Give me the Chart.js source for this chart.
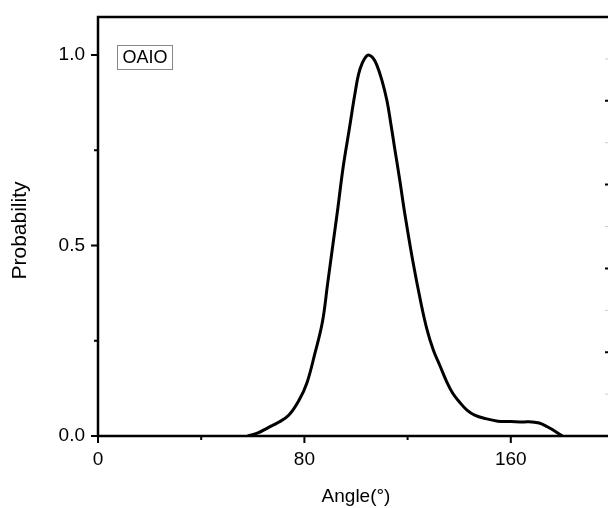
<!DOCTYPE html>
<html>
<head>
<meta charset="utf-8">
<script src="https://cdn.jsdelivr.net/npm/chart.js@4.4.1/dist/chart.umd.min.js"></script>
<style>
  html, body { margin: 0; padding: 0; background: #fff; overflow: hidden; }
  #clip { width: 608px; height: 508px; overflow: hidden; }
  #wrap { width: 640px; height: 508px; }
</style>
</head>
<body>
<div id="clip"><div id="wrap"><canvas id="myChart" width="640" height="508"></canvas></div></div>
<script>
// angle distribution
const angles = [58, 62, 66, 70, 74, 78, 81, 84, 87, 89, 91, 93, 95, 97.5, 99.5, 101, 102.5, 104, 105, 106.5, 108, 110, 112, 113.5, 115, 117, 119, 122, 125, 127.5, 130, 132.5, 135, 137.5, 140, 143, 146, 150, 155, 160, 165, 168, 171, 174, 177, 180];
const probs = [0, 0.008, 0.022, 0.036, 0.055, 0.095, 0.14, 0.215, 0.30, 0.40, 0.50, 0.60, 0.705, 0.81, 0.895, 0.95, 0.98, 0.997, 1.0, 0.993, 0.975, 0.935, 0.88, 0.82, 0.755, 0.67, 0.58, 0.46, 0.355, 0.28, 0.225, 0.185, 0.145, 0.112, 0.09, 0.068, 0.055, 0.046, 0.039, 0.038, 0.037, 0.037, 0.034, 0.025, 0.013, 0];

const seriesName = 'OAIO';
const xTitle = 'Angle(°)';
const yTitle = 'Probability';

const xTickLabels = [0, 80, 160];
const xMinorTicks = [40, 120, 200];
const yTickLabels = [0, 0.5, 1.0];
const yMinorTicks = [0.25, 0.75];
const rightMajorTicks = [1, 2, 3, 4];
const rightMinorTicks = [0.5, 1.5, 2.5, 3.5, 4.5];

const fontName = '"Liberation Sans", Arial, sans-serif';

// frame, tick marks, y title and the label box
const framePlugin = {
    id: 'frame',
    afterDraw(chart) {
        const ctx = chart.ctx;
        const a = chart.chartArea;
        const xs = chart.scales.x, ys = chart.scales.y, rs = chart.scales.y2;
        ctx.save();
        ctx.strokeStyle = '#000';
        ctx.lineCap = 'square';

        ctx.lineWidth = 2.5;
        ctx.beginPath();
        ctx.moveTo(a.left, a.top); ctx.lineTo(a.right, a.top);
        ctx.moveTo(a.left, a.top); ctx.lineTo(a.left, a.bottom);
        ctx.moveTo(a.left, a.bottom); ctx.lineTo(a.right, a.bottom);
        ctx.stroke();

        ctx.lineWidth = 2;
        ctx.lineCap = 'butt';
        ctx.beginPath();
        xTickLabels.forEach(v => { const p = xs.getPixelForValue(v); ctx.moveTo(p, a.bottom); ctx.lineTo(p, a.bottom + 7); });
        xMinorTicks.forEach(v => { const p = xs.getPixelForValue(v); ctx.moveTo(p, a.bottom); ctx.lineTo(p, a.bottom + 4); });
        yTickLabels.forEach(v => { const p = ys.getPixelForValue(v); ctx.moveTo(a.left, p); ctx.lineTo(a.left - 7, p); });
        yMinorTicks.forEach(v => { const p = ys.getPixelForValue(v); ctx.moveTo(a.left, p); ctx.lineTo(a.left - 4, p); });
        rightMajorTicks.forEach(v => { const p = rs.getPixelForValue(v); ctx.moveTo(a.right, p); ctx.lineTo(a.right - 9, p); });
        ctx.stroke();
        ctx.lineWidth = 1;
        ctx.strokeStyle = '#ccc';
        ctx.beginPath();
        rightMinorTicks.forEach(v => { const p = rs.getPixelForValue(v); ctx.moveTo(a.right, p); ctx.lineTo(a.right - 9, p); });
        ctx.stroke();

        // y title
        ctx.fillStyle = '#000';
        ctx.font = '21px ' + fontName;
        ctx.textAlign = 'center';
        ctx.textBaseline = 'middle';
        ctx.translate(20, (a.top + a.bottom) / 2 + 4);
        ctx.rotate(-Math.PI / 2);
        ctx.fillText(yTitle, 0, 0);
        ctx.restore();

        // label box
        ctx.save();
        ctx.font = '18px ' + fontName;
        const label = chart.data.datasets[0].label;
        const w = ctx.measureText(label).width + 10;
        const bx = Math.round(a.left + 19) + 0.5, by = Math.round(a.top + 28) + 0.5;
        ctx.strokeStyle = '#888';
        ctx.lineWidth = 1;
        ctx.strokeRect(bx, by, w, 24);
        ctx.fillStyle = '#000';
        ctx.textAlign = 'center';
        ctx.textBaseline = 'middle';
        ctx.fillText(label, bx + w / 2, by + 13);
        ctx.restore();
    }
};

const ctx = document.getElementById('myChart').getContext('2d');
new Chart(ctx, {
    type: 'line',
    data: {
        datasets: [{
            label: seriesName,
            data: angles.map((a, i) => ({ x: a, y: probs[i] })),
            borderColor: '#000',
            borderWidth: 3,
            pointRadius: 0,
            fill: false,
            tension: 0.4
        }]
    },
    options: {
        responsive: false,
        animation: false,
        layout: { padding: { top: 17, right: 26, left: 0, bottom: 0 } },
        plugins: {
            legend: false,
            tooltip: { enabled: false }
        },
        scales: {
            x: {
                type: 'linear',
                min: 0,
                max: 200,
                afterBuildTicks: axis => { axis.ticks = xTickLabels.map(v => ({ value: v })); },
                afterFit: axis => { axis.height = 72; axis.paddingLeft = 0; axis.paddingRight = 0; },
                grid: { display: false, drawTicks: false },
                border: { display: false },
                ticks: {
                    color: '#000',
                    font: { family: fontName, size: 19 },
                    padding: 12,
                    maxRotation: 0,
                    callback: v => v
                },
                title: {
                    display: true,
                    text: xTitle,
                    color: '#000',
                    font: { family: fontName, size: 19 },
                    padding: { top: 0, bottom: 0 }
                }
            },
            y: {
                min: 0,
                max: 1.1,
                afterBuildTicks: axis => { axis.ticks = yTickLabels.map(v => ({ value: v })); },
                afterFit: axis => { axis.width = 98; axis.paddingTop = 0; axis.paddingBottom = 0; },
                grid: { display: false, drawTicks: false },
                border: { display: false },
                ticks: {
                    color: '#000',
                    font: { family: fontName, size: 19 },
                    padding: 13,
                    callback: v => v.toFixed(1)
                }
            },
            y2: {
                position: 'right',
                min: 0,
                max: 5,
                display: false
            }
        }
    },
    plugins: [framePlugin]
});
</script>
</body>
</html>
